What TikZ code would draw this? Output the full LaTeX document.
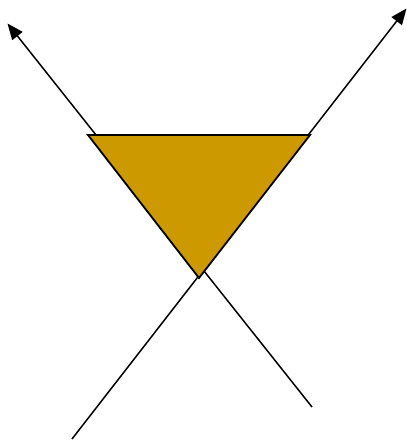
\documentclass[tikz,border=0pt]{standalone}
\usetikzlibrary{arrows.meta}
\definecolor{gold}{HTML}{CC9900}

\begin{document}
\begin{tikzpicture}[x=1pt, y=-1pt, >={Triangle[length=16pt, width=13pt]},
  ray/.style={draw, line width=1.5pt, ->},
  tri/.style={draw, line width=1.8pt, fill=gold, line join=miter}]
  \useasboundingbox (0,0) rectangle (407,440);
  \coordinate (l0) at (72,439);
  \coordinate (l1) at (406.5,8.5);
  \coordinate (r0) at (312,407);
  \coordinate (r1) at (7.5,23.5);
  \draw[ray] (l0)--(l1);
  \draw[ray] (r0)--(r1);
  \coordinate (tl) at (88,135);
  \coordinate (tr) at (310,135);
  \coordinate (bt) at (199,278);
  \draw[tri] (tl)--(tr)--(bt)--cycle;
\end{tikzpicture}
\end{document}
